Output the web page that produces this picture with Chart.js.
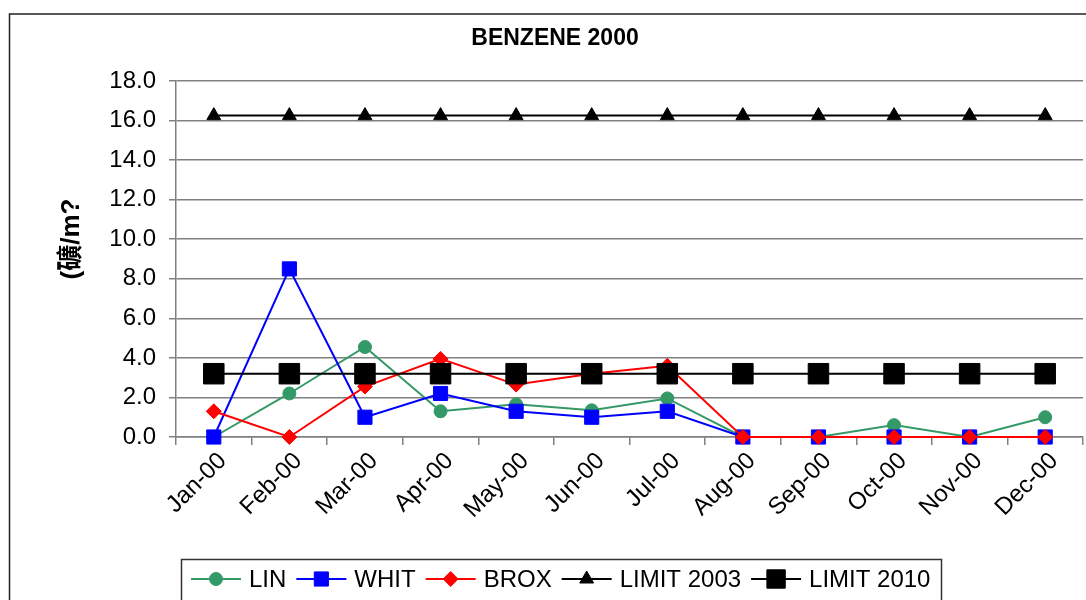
<!DOCTYPE html>
<html>
<head>
<meta charset="utf-8">
<script src="https://cdn.jsdelivr.net/npm/chart.js@4/dist/chart.umd.min.js"></script>
<style>
  html, body { margin: 0; padding: 0; background: #fff; overflow: hidden; }
</style>
</head>
<body>
<canvas id="chart" width="1086" height="600"></canvas>
<script>
// values
const months = ["Jan-00", "Feb-00", "Mar-00", "Apr-00", "May-00", "Jun-00",
  "Jul-00", "Aug-00", "Sep-00", "Oct-00", "Nov-00", "Dec-00"];
const lin = [0, 2.2, 4.55, 1.3, 1.65, 1.35, 1.95, 0, 0, 0.6, 0, 1.0];
const whit = [0, 8.5, 1.0, 2.2, 1.3, 1.0, 1.3, 0, 0, 0, 0, 0];
const brox = [1.3, 0, 2.55, 3.95, 2.65, 3.2, 3.6, 0, 0, 0, 0, 0];
const limit2003 = [16.25, 16.25, 16.25, 16.25, 16.25, 16.25, 16.25, 16.25, 16.25, 16.25, 16.25, 16.25];
const limit2010 = [3.2, 3.2, 3.2, 3.2, 3.2, 3.2, 3.2, 3.2, 3.2, 3.2, 3.2, 3.2];
const yTicks = [0, 2, 4, 6, 8, 10, 12, 14, 16, 18];

const chartTitle = "BENZENE 2000";
const yTitle = "(礦/m?";
const FONT = "Arial, 'Liberation Sans', 'Noto Sans CJK SC', sans-serif";

function series(label, data, color, style, radius, order) {
  return {
    label: label,
    data: data,
    borderColor: color,
    backgroundColor: color,
    borderWidth: 2,
    pointStyle: style,
    pointRadius: radius,
    pointHoverRadius: radius,
    pointBorderWidth: 1,
    pointBorderColor: color,
    pointBackgroundColor: color,
    tension: 0,
    fill: false,
    clip: false,
    order: order,
  };
}

const datasets = [
  series("LIN", lin, "#339966", "circle", 6.5, 5),
  series("WHIT", whit, "#0000ff", "rect", 10, 4),
  series("BROX", brox, "#ff0000", "rectRot", 7.5, 3),
  series("LIMIT 2003", limit2003, "#000000", "triangle", 8, 2),
  series("LIMIT 2010", limit2010, "#000000", "rect", 14.5, 1),
];

// frame, title, y title and the boxed legend along the bottom
const decorations = {
  id: "decorations",
  afterDraw(chart) {
    const ctx = chart.ctx;
    ctx.save();
    // outer frame
    ctx.strokeStyle = "#222";
    ctx.lineWidth = 1.5;
    ctx.strokeRect(9.5, 14, 1100, 620);

    // title
    ctx.fillStyle = "#000";
    ctx.font = "bold 23px " + FONT;
    ctx.textAlign = "center";
    ctx.textBaseline = "middle";
    ctx.fillText(chartTitle, 555, 39);

    // y axis title
    ctx.save();
    ctx.translate(72, 239);
    ctx.rotate(-Math.PI / 2);
    ctx.font = "bold 26px " + FONT;
    ctx.fillText(yTitle, 0, 0);
    ctx.restore();

    // legend box
    ctx.strokeStyle = "#333";
    ctx.lineWidth = 1.5;
    ctx.strokeRect(181.5, 559.5, 760, 60);

    ctx.font = "24px " + FONT;
    ctx.textAlign = "left";
    let x = 191;
    const y = 579;
    chart.data.datasets.forEach(function (ds) {
      ctx.strokeStyle = ds.borderColor;
      ctx.lineWidth = 2;
      ctx.beginPath();
      ctx.moveTo(x, y);
      ctx.lineTo(x + 50, y);
      ctx.stroke();
      ctx.fillStyle = ds.pointBackgroundColor;
      ctx.strokeStyle = ds.pointBorderColor;
      ctx.lineWidth = 1;
      Chart.helpers.drawPoint(ctx, {
        pointStyle: ds.pointStyle,
        radius: ds.pointStyle === "rect" ? Math.min(ds.pointRadius, 13) : ds.pointRadius,
        rotation: 0,
        borderWidth: 1,
      }, x + 25, y);
      ctx.fillStyle = "#000";
      ctx.fillText(ds.label, x + 58, y + 1);
      x += 58 + ctx.measureText(ds.label).width + 10;
    });
    ctx.restore();
  },
};

new Chart(document.getElementById("chart"), {
  type: "line",
  data: { labels: months, datasets: datasets },
  options: {
    responsive: false,
    animation: false,
    events: [],
    layout: {
      autoPadding: false,
      padding: { top: 81, right: 3, left: 0, bottom: 0 },
    },
    plugins: {
      legend: { display: false },
      title: { display: false },
      tooltip: { enabled: false },
    },
    scales: {
      x: {
        type: "category",
        offset: true,
        afterFit(scale) {
          scale.height = 163;
          scale.paddingLeft = 0;
          scale.paddingRight = 0;
        },
        grid: {
          offset: true,
          drawOnChartArea: false,
          drawTicks: true,
          tickLength: 8,
          color: "#808080",
          lineWidth: 1.5,
        },
        border: { display: true, color: "#808080", width: 1.5 },
        ticks: {
          minRotation: 45,
          maxRotation: 45,
          autoSkip: false,
          padding: 2,
          labelOffset: 9,
          color: "#000",
          font: { family: FONT, size: 24 },
        },
      },
      y: {
        min: 0,
        max: 18,
        afterFit(scale) {
          scale.width = 176;
          scale.paddingTop = 0;
          scale.paddingBottom = 0;
        },
        afterBuildTicks(scale) {
          scale.ticks = yTicks.map(function (v) { return { value: v }; });
        },
        grid: {
          color: "#808080",
          lineWidth: 1.5,
          drawTicks: true,
          tickLength: 7,
        },
        border: { display: true, color: "#808080", width: 1.5 },
        ticks: {
          padding: 13,
          color: "#000",
          font: { family: FONT, size: 24 },
          callback: function (v) { return Number(v).toFixed(1); },
        },
      },
    },
  },
  plugins: [decorations],
});
</script>
</body>
</html>
